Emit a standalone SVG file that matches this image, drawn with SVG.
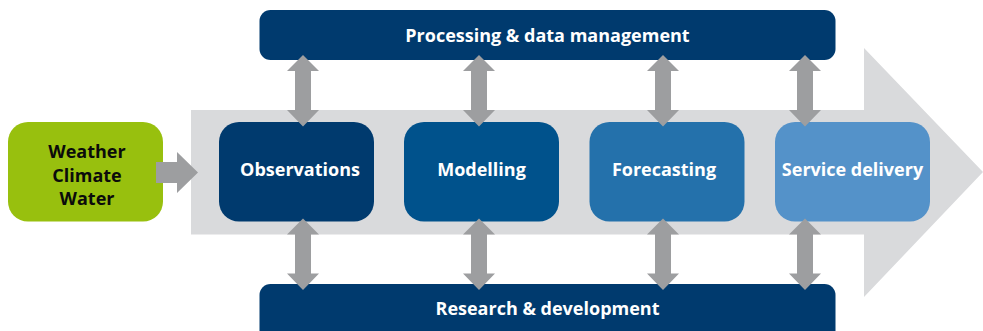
<svg xmlns="http://www.w3.org/2000/svg" width="983" height="331" viewBox="0 0 983 331">
<style>
text{font-family:"Open Sans","Noto Sans","Liberation Sans",sans-serif;font-weight:700;font-size:18px;text-anchor:middle}
.w{fill:#fff}.k{fill:#0b0b0b}
.bar{fill:#003a6e}
.a{fill:#9d9ea0}
</style>
<defs>
<path id="dbl" d="M0 0L16 16H8V55H16L0 71.500L-16 55H-8V16H-16Z"/>
</defs>
<rect width="983" height="331" fill="#fff"/>
<path id="band" d="M191 110H864V48L983 172L864 297V234.500H191Z" fill="#d9dadc"/>
<g id="processing"><rect class="bar" x="259.500" y="10" width="576" height="50" rx="11"/><text class="w" x="547.500" y="41.500">Processing &amp; data management</text></g>
<g id="research"><rect class="bar" x="259.500" y="284" width="576" height="60" rx="11"/><text class="w" x="547.500" y="314.500">Research &amp; development</text></g>
<g id="source"><rect x="8" y="122" width="155" height="99.500" rx="20" fill="#98c00e"/><text class="k" x="87" y="157.500">Weather</text><text class="k" x="87" y="181.500">Climate</text><text class="k" x="87" y="204.500">Water</text></g>
<g id="observations"><rect x="219" y="122" width="155" height="99.500" rx="20" fill="#003a6e"/><text class="w" x="300" y="175.500">Observations</text></g>
<g id="modelling"><rect x="404" y="122" width="155" height="99.500" rx="20" fill="#00528c"/><text class="w" x="481.500" y="175.500">Modelling</text></g>
<g id="forecasting"><rect x="589.500" y="122" width="155" height="99.500" rx="20" fill="#2471ab"/><text class="w" x="664" y="175.500">Forecasting</text></g>
<g id="service"><rect x="775" y="122" width="155" height="99.500" rx="20" fill="#5492c9"/><text class="w" x="852.500" y="175.500">Service delivery</text></g>
<g id="connectors" class="a">
<path d="M156 162H177V152L198 172.500L177 193V183H156Z"/>
<use href="#dbl" x="303" y="55"/><use href="#dbl" x="479" y="55"/><use href="#dbl" x="663" y="55"/><use href="#dbl" x="805" y="55"/>
<use href="#dbl" x="303" y="218.500"/><use href="#dbl" x="479" y="218.500"/><use href="#dbl" x="663" y="218.500"/><use href="#dbl" x="805" y="218.500"/>
</g>
</svg>
